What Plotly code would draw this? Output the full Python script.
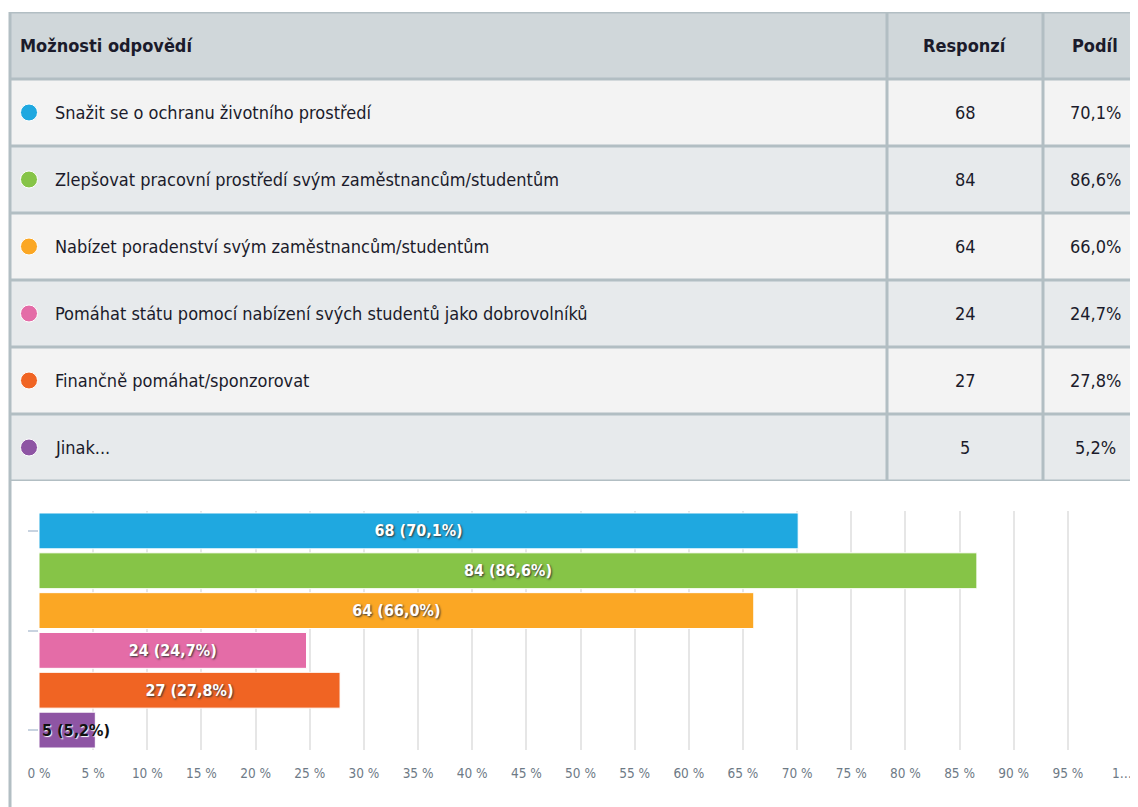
import plotly.graph_objects as go

# survey answers
options = [
    "Snažit se o ochranu životního prostředí",
    "Zlepšovat pracovní prostředí svým zaměstnancům/studentům",
    "Nabízet poradenství svým zaměstnancům/studentům",
    "Pomáhat státu pomocí nabízení svých studentů jako dobrovolníků",
    "Finančně pomáhat/sponzorovat",
    "Jinak...",
]
responses = [68, 84, 64, 24, 27, 5]
shares = [70.1, 86.6, 66.0, 24.7, 27.8, 5.2]
colors = ['#1fa8e0', '#86c447', '#fba724', '#e46ca7', '#f06423', '#8e55a4']
headers = ["Možnosti odpovědí", "Responzí", "Podíl"]
x_ticks = list(range(0, 101, 5))
x_ticktext = [f"{v} %" for v in x_ticks[:-1]] + ["1…"]

FONT = "DejaVu Sans Condensed, Liberation Sans Narrow, sans-serif"
# the page body has an 8px margin, so the figure is drawn 8px in from the corner
OFF = 8
W, H = 1138 - OFF, 807 - OFF
line_col = '#b2bec3'
text_col = '#1b1b2b'


def fx(px):
    return (px - OFF) / W


def fy(py):
    return 1 - (py - OFF) / H


# table column edges in screen pixels (x2 axis runs in screen pixels)
col_edges = [10, 887, 1043, 1147]
n = len(options)


def fmt(v):
    return f"{v:.1f}".replace('.', ',') + "%"


fig = go.Figure()

# ---- table part ----
shapes = []
for i in range(-1, n):
    fill = '#d0d7da' if i < 0 else ('#f3f3f3' if i % 2 == 0 else '#e7eaec')
    shapes.append(dict(type='rect', xref='x2', yref='y2', x0=col_edges[0], x1=col_edges[-1],
                       y0=i - 0.5, y1=i + 0.5, fillcolor=fill, line=dict(width=0), layer='below'))
for i in range(-1, n + 1):
    shapes.append(dict(type='line', xref='x2', yref='y2', x0=col_edges[0], x1=col_edges[-1],
                       y0=i - 0.5, y1=i - 0.5, line=dict(color=line_col, width=3)))
for xe in col_edges:
    shapes.append(dict(type='line', xref='x2', yref='y2', x0=xe, x1=xe,
                       y0=-1.5, y1=n - 0.5, line=dict(color=line_col, width=3)))
# left border of the chart panel below the table
shapes.append(dict(type='line', xref='paper', yref='paper',
                   x0=fx(10), x1=fx(10), y0=0, y1=fy(481),
                   line=dict(color=line_col, width=3)))

annotations = []
centers = [18, (col_edges[1] + col_edges[2]) / 2, (col_edges[2] + col_edges[3]) / 2]
anchors = ['left', 'center', 'center']
for h, cx, an in zip(headers, centers, anchors):
    annotations.append(dict(xref='x2', yref='y2', x=cx, y=-1, text=f"<b>{h}</b>",
                            xanchor=an, yanchor='middle', showarrow=False,
                            font=dict(family=FONT, size=18, color=text_col)))
for i, (opt, r, s) in enumerate(zip(options, responses, shares)):
    for txt, cx, an in zip([opt, str(r), fmt(s)], [53, centers[1], centers[2]], anchors):
        annotations.append(dict(xref='x2', yref='y2', x=cx, y=i, text=txt,
                                xanchor=an, yanchor='middle', showarrow=False,
                                font=dict(family=FONT, size=18, color=text_col)))

fig.add_trace(go.Scatter(
    x=[29] * n, y=list(range(n)), mode='markers',
    marker=dict(size=17, color=colors, line=dict(color='white', width=1)),
    xaxis='x2', yaxis='y2', hoverinfo='skip', showlegend=False, cliponaxis=False,
))

# ---- bar chart ----
for i, (r, s, c) in enumerate(zip(responses, shares, colors)):
    small = s < 10
    fig.add_trace(go.Bar(
        x=[s], y=[i], orientation='h',
        marker=dict(color=c, line=dict(color='white', width=1)),
        text=[f"{r} ({fmt(s)})"],
        textposition='inside',
        insidetextanchor='start' if small else 'middle',
        textangle=0,
        constraintext='none',
        textfont=dict(family=FONT, size=16, weight='bold',
                      color='#111111' if small else 'white',
                      shadow='1px 1px 1px #ffffff' if small else '1px 1px 2px #333333'),
        hoverinfo='skip',
        showlegend=False,
    ))

fig.update_layout(
    width=W, height=H,
    margin=dict(l=0, r=0, t=0, b=0),
    paper_bgcolor='white',
    plot_bgcolor='rgba(0,0,0,0)',
    bargap=0.1,
    barmode='overlay',
    font=dict(family=FONT, color=text_col),
    shapes=shapes,
    annotations=annotations,
    xaxis=dict(
        domain=[fx(39), fx(1122)],
        range=[0, 100],
        tickvals=x_ticks, ticktext=x_ticktext,
        showgrid=True, gridcolor='#e6e6e6', gridwidth=2,
        zeroline=False, showline=False, automargin=False,
        tickfont=dict(family=FONT, size=13.5, color='#6e7a86'),
        ticks='', ticklabelstandoff=13,
    ),
    yaxis=dict(
        domain=[fy(750), fy(511)],
        range=[5.5, -0.5],
        tickvals=[0, 2.5, 5], showticklabels=False,
        ticks='outside', ticklen=10, tickcolor='#c8d3e0', tickwidth=2,
        showgrid=False, zeroline=False, showline=False, automargin=False,
    ),
    xaxis2=dict(domain=[0, 1], range=[OFF, OFF + W], visible=False, fixedrange=True),
    yaxis2=dict(domain=[fy(481), fy(12)], range=[n - 0.5, -1.5],
                visible=False, fixedrange=True),
)

fig.write_html("out.html")
